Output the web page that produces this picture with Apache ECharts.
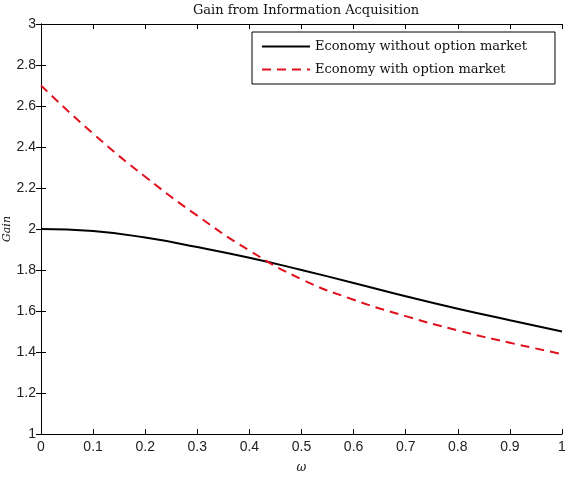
<!DOCTYPE html>
<html>
<head>
<meta charset="utf-8">
<script src="https://cdn.jsdelivr.net/npm/echarts@6/dist/echarts.min.js"></script>
<style>
    html, body { margin: 0; padding: 0; background: #fff; }
    .gain { width: 571px; height: 479px; }
</style>
</head>
<body>
<div class="gain"></div>
<script>
// 数据
const omega = [0, 0.1, 0.2, 0.3, 0.4, 0.5, 0.6, 0.7, 0.8, 0.9, 1]
const noOption = [2.00, 1.99, 1.958, 1.912, 1.86, 1.80, 1.737, 1.672, 1.611, 1.555, 1.50]
const withOption = [2.70, 2.465, 2.255, 2.065, 1.895, 1.755, 1.655, 1.575, 1.505, 1.445, 1.39]
const xTicks = ['0', '0.1', '0.2', '0.3', '0.4', '0.5', '0.6', '0.7', '0.8', '0.9', '1']
const yTicks = ['1', '1.2', '1.4', '1.6', '1.8', '2', '2.2', '2.4', '2.6', '2.8', '3']

;(function () {
    const myChart = echarts.init(document.querySelector('.gain'))
    const pairs = ys => omega.map((x, i) => [x, ys[i]])
    const tickFont = { color: '#222', fontSize: 14, fontFamily: 'Liberation Sans' }
    const frame = { show: true, lineStyle: { color: '#000', width: 1 } }
    const inTicks = { show: true, inside: true, length: 5, lineStyle: { color: '#000' } }

    const option = {
        animation: false,
        title: {
            text: 'Gain from Information Acquisition',
            left: 301,
            textAlign: 'center',
            top: -1,
            textStyle: { fontFamily: 'DejaVu Serif', fontSize: 13, fontWeight: 'normal', color: '#111' }
        },
        legend: {
            orient: 'vertical',
            left: 252,
            top: 32,
            padding: [8, 28, 8, 9],
            itemGap: 10,
            itemWidth: 48,
            itemHeight: 10,
            itemStyle: { opacity: 0 }, // 只显示线，不显示圆点
            borderColor: '#000',
            borderWidth: 1,
            backgroundColor: '#fff',
            textStyle: { fontFamily: 'DejaVu Serif', fontSize: 13, color: '#111' },
            data: ['Economy without option market', 'Economy with option market']
        },
        grid: { left: 41, right: 9, top: 24, bottom: 45, containLabel: false, outerBoundsMode: 'none' },
        xAxis: [
            {
                type: 'value', min: 0, max: 1, interval: 0.1,
                name: 'ω', nameLocation: 'middle', nameGap: 28, nameMoveOverlap: false,
                nameTextStyle: { fontFamily: 'DejaVu Serif', fontStyle: 'italic', fontSize: 12, color: '#111' },
                axisLine: frame, axisTick: inTicks, splitLine: { show: false },
                axisLabel: Object.assign({ margin: 6, formatter: v => xTicks[Math.round(v * 10)] }, tickFont)
            },
            {
                type: 'value', min: 0, max: 1, interval: 0.1, position: 'top',
                axisLine: frame, axisTick: inTicks, axisLabel: { show: false }, splitLine: { show: false }
            }
        ],
        yAxis: [
            {
                type: 'value', min: 1, max: 3, interval: 0.2,
                name: 'Gain', nameLocation: 'middle', nameGap: 28, nameRotate: 90, nameMoveOverlap: false,
                nameTextStyle: { fontFamily: 'DejaVu Serif', fontStyle: 'italic', fontSize: 11, color: '#111' },
                axisLine: frame, axisTick: inTicks, splitLine: { show: false },
                axisLabel: Object.assign({ margin: 5, formatter: v => yTicks[Math.round((v - 1) * 5)] }, tickFont)
            },
            {
                type: 'value', min: 1, max: 3, interval: 0.2, position: 'right',
                axisLine: frame, axisTick: inTicks, axisLabel: { show: false }, splitLine: { show: false }
            }
        ],
        series: [
            {
                name: 'Economy without option market',
                type: 'line',
                smooth: true,
                symbol: 'none',
                itemStyle: { color: '#000' },
                lineStyle: { color: '#000', width: 2 },
                data: pairs(noOption)
            },
            {
                name: 'Economy with option market',
                type: 'line',
                smooth: true,
                symbol: 'none',
                itemStyle: { color: '#e0101e' },
                lineStyle: { color: '#e0101e', width: 2, type: [9, 6] },
                data: pairs(withOption)
            }
        ]
    }
    myChart.setOption(option)
})()
</script>
</body>
</html>
